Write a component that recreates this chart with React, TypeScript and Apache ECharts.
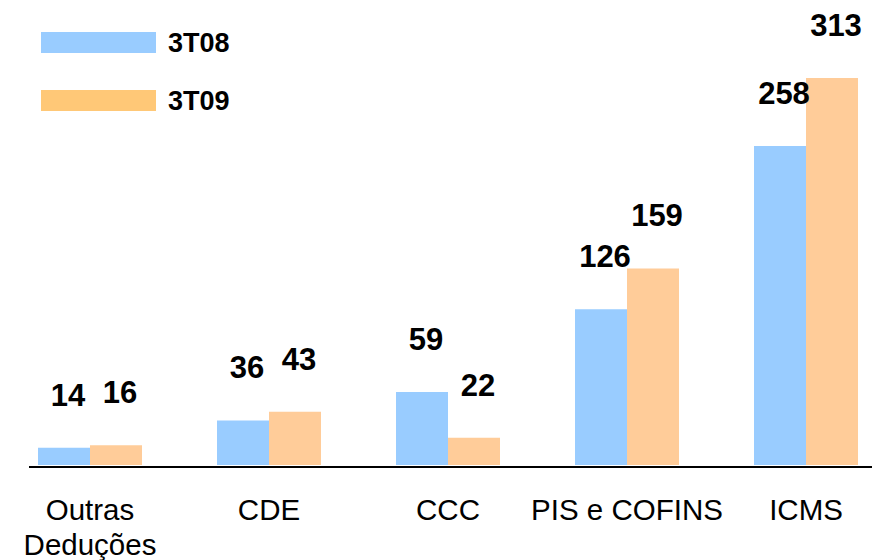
import React, { useEffect, useRef } from "react";
import * as echarts from "echarts";

const categories = ["Outras\nDeduções", "CDE", "CCC", "PIS e COFINS", "ICMS"];
const series3T08 = [14, 36, 59, 126, 258];
const series3T09 = [16, 43, 22, 159, 313];
const seriesNames = ["3T08", "3T09"];

const FONT = "'Liberation Sans', Arial, sans-serif";

export default function App() {
  const ref = useRef<HTMLDivElement>(null);
  useEffect(() => {
    if (!ref.current) return;
    const chart = echarts.init(ref.current, null, { renderer: "svg" });
    const labelCfg = {
      show: true,
      position: "top",
      distance: 37,
      offset: [4, 0],
      fontFamily: FONT,
      fontSize: 31,
      fontWeight: "bold",
      color: "#000",
    };
    chart.setOption({
      animation: false,
      backgroundColor: "#fff",
      legend: {
        orient: "vertical",
        left: 41,
        top: 29,
        padding: 0,
        itemWidth: 115,
        itemHeight: 21,
        itemGap: 31,
        icon: "rect",
        textStyle: {
          fontFamily: FONT,
          fontSize: 27,
          fontWeight: "bold",
          color: "#000",
          padding: [0, 0, 0, 7],
        },
        data: [
          { name: seriesNames[0], itemStyle: { color: "#99CCFF" } },
          { name: seriesNames[1], itemStyle: { color: "#FFC877" } },
        ],
      },
      grid: {
        left: 0.5,
        width: 895,
        top: 32.3,
        bottom: 95,
        containLabel: false,
        outerBoundsMode: "none",
      },
      xAxis: {
        type: "category",
        data: categories,
        axisLine: { show: false },
        axisTick: { show: false },
        axisLabel: {
          fontFamily: FONT,
          fontSize: 29.5,
          color: "#000",
          lineHeight: 35,
          margin: 27,
          interval: 0,
        },
      },
      yAxis: {
        type: "value",
        min: 0,
        max: 350,
        show: false,
        splitLine: { show: false },
      },
      graphic: [
        {
          type: "line",
          shape: { x1: 29, y1: 467, x2: 872, y2: 467 },
          style: { stroke: "#000", lineWidth: 2 },
        },
      ],
      series: [
        {
          name: seriesNames[0],
          type: "bar",
          data: series3T08,
          barWidth: 52,
          barGap: "0%",
          itemStyle: { color: "#99CCFF" },
          label: labelCfg,
        },
        {
          name: seriesNames[1],
          type: "bar",
          data: series3T09,
          barWidth: 52,
          itemStyle: { color: "#FFCC99" },
          label: labelCfg,
        },
      ],
    });
    return () => chart.dispose();
  }, []);
  return (
    <div
      ref={ref}
      style={{ position: "fixed", left: 0, top: 0, width: 872, height: 560 }}
    />
  );
}
